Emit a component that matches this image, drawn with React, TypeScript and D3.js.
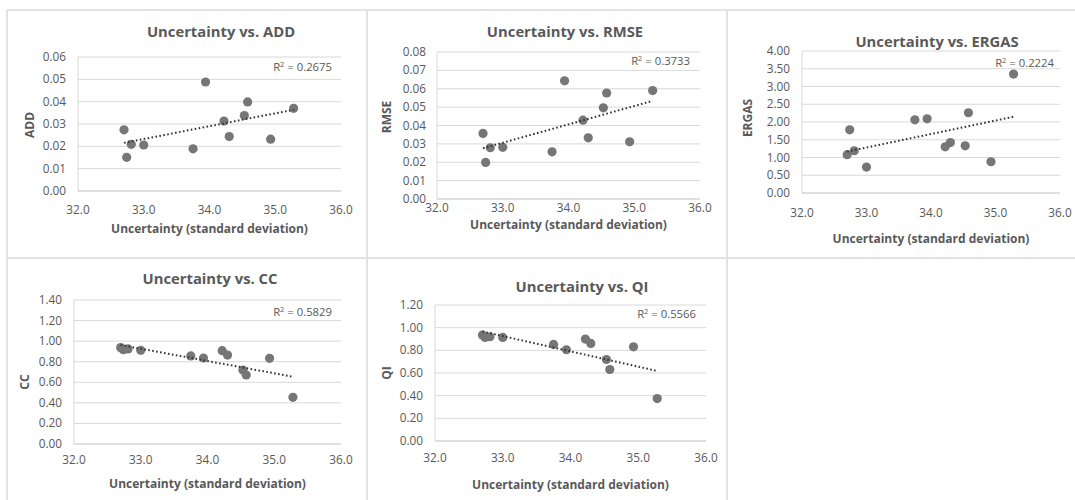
import React from "react";
import * as d3 from "d3";

// ---- data ----
const uncertainty = [32.70, 32.74, 32.81, 33.00, 33.75, 33.94, 34.22, 34.30, 34.53, 34.58, 34.93, 35.28];
const addValues = [0.0274, 0.0151, 0.0209, 0.0206, 0.0189, 0.0488, 0.0313, 0.0244, 0.0338, 0.0399, 0.0232, 0.0370];
const rmseValues = [0.0357, 0.0199, 0.0279, 0.0281, 0.0257, 0.0643, 0.0429, 0.0333, 0.0496, 0.0577, 0.0311, 0.0590];
const ergasValues = [1.08, 1.78, 1.19, 0.73, 2.06, 2.09, 1.30, 1.42, 1.33, 2.26, 0.88, 3.35];
const ccValues = [0.937, 0.917, 0.924, 0.911, 0.856, 0.836, 0.907, 0.865, 0.719, 0.671, 0.833, 0.454];
const qiValues = [0.935, 0.914, 0.920, 0.914, 0.852, 0.805, 0.899, 0.861, 0.719, 0.631, 0.831, 0.374];

const titles = ["Uncertainty vs. ADD", "Uncertainty vs. RMSE", "Uncertainty vs. ERGAS", "Uncertainty vs. CC", "Uncertainty vs. QI"];
const yLabels = ["ADD", "RMSE", "ERGAS", "CC", "QI"];
const r2Labels = ["0.2675", "0.3733", "0.2224", "0.5829", "0.5566"];
const yMaxes = [0.06, 0.08, 4.0, 1.4, 1.2];
const ySteps = [0.01, 0.01, 0.5, 0.2, 0.2];
const xTickValues = [32, 33, 34, 35, 36];
const xTitle = "Uncertainty (standard deviation)";

const seriesList = [addValues, rmseValues, ergasValues, ccValues, qiValues];

// ---- layout ----
type Layout = {
  x0: number; x1: number; yTop: number; yBot: number;
  titleX: number; titleY: number;
  xTickY: number; xTitleY: number;
  yTickX: number; yTitleX: number; yTitleY: number;
  r2X: number; r2Y: number;
};
const layouts: Layout[] = [
  { x0: 78, x1: 341, yTop: 57, yBot: 191, titleX: 221, titleY: 37, xTickY: 214, xTitleY: 233, yTickX: 66, yTitleX: 30, yTitleY: 125, r2X: 332, r2Y: 71 },
  { x0: 437, x1: 700, yTop: 52, yBot: 199, titleX: 565, titleY: 37, xTickY: 212, xTitleY: 229, yTickX: 426, yTitleX: 387, yTitleY: 117, r2X: 690, r2Y: 65 },
  { x0: 802, x1: 1060, yTop: 51, yBot: 193, titleX: 937, titleY: 47, xTickY: 217, xTitleY: 243, yTickX: 790, yTitleX: 748, yTitleY: 118, r2X: 1054, r2Y: 67 },
  { x0: 74, x1: 341, yTop: 300, yBot: 444, titleX: 210, titleY: 284, xTickY: 464, xTitleY: 488, yTickX: 62, yTitleX: 25, yTitleY: 382, r2X: 332, r2Y: 316 },
  { x0: 435, x1: 706, yTop: 305, yBot: 441, titleX: 582, titleY: 292, xTickY: 462, xTitleY: 489, yTickX: 423, yTitleX: 387, yTitleY: 373, r2X: 696, r2Y: 318 },
];

const FONT = "'Open Sans', 'Noto Sans', sans-serif";
const TEXT = "#595959";
const GRID = "#d9d9d9";
const AXIS = "#bfbfbf";
const POINT = "#767676";
const BORDER = "#e3e3e3";

function regression(xs: number[], ys: number[]) {
  const mx = d3.mean(xs)!;
  const my = d3.mean(ys)!;
  let num = 0, den = 0;
  xs.forEach((x, i) => { num += (x - mx) * (ys[i] - my); den += (x - mx) * (x - mx); });
  const slope = num / den;
  return { slope, intercept: my - slope * mx };
}

function Panel({ idx }: { idx: number }) {
  const L = layouts[idx];
  const ys = seriesList[idx];
  const x = d3.scaleLinear().domain([32, 36]).range([L.x0, L.x1]);
  const y = d3.scaleLinear().domain([0, yMaxes[idx]]).range([L.yBot, L.yTop]);
  const n = Math.round(yMaxes[idx] / ySteps[idx]);
  const yTicks = d3.range(0, n + 1).map((i) => i * ySteps[idx]);
  const reg = regression(uncertainty, ys);
  const xMin = d3.min(uncertainty)!;
  const xMax = d3.max(uncertainty)!;
  const line = d3.line<number>().x((d) => x(d)).y((d) => y(reg.slope * d + reg.intercept));
  return (
    <g>
      {yTicks.slice(1).map((t) => (
        <line key={"g" + t} x1={L.x0} x2={L.x1} y1={y(t)} y2={y(t)} stroke={GRID} strokeWidth={1} />
      ))}
      <line x1={L.x0} x2={L.x0} y1={L.yTop} y2={L.yBot} stroke={GRID} strokeWidth={1} />
      <line x1={L.x0} x2={L.x1} y1={L.yBot} y2={L.yBot} stroke={AXIS} strokeWidth={1} />
      {yTicks.map((t) => (
        <text key={"yt" + t} x={L.yTickX} y={y(t) + 4} textAnchor="end" fontSize={11.8} fill={TEXT} fontFamily={FONT}>
          {t.toFixed(2)}
        </text>
      ))}
      {xTickValues.map((t) => (
        <text key={"xt" + t} x={x(t)} y={L.xTickY} textAnchor="middle" fontSize={11.8} fill={TEXT} fontFamily={FONT}>
          {t.toFixed(1)}
        </text>
      ))}
      {uncertainty.map((u, i) => (
        <circle key={"p" + i} cx={x(u)} cy={y(ys[i])} r={4.6} fill={POINT} />
      ))}
      <path d={line([xMin, xMax]) || ""} fill="none" stroke="#333" strokeWidth={2} strokeDasharray="1.6 2.4" />
      <text x={L.titleX} y={L.titleY} textAnchor="middle" fontSize={14.8} fontWeight={700} fill={TEXT} fontFamily={FONT}>
        {titles[idx]}
      </text>
      <text x={(L.x0 + L.x1) / 2} y={L.xTitleY} textAnchor="middle" fontSize={12} fontWeight={700} fill={TEXT} fontFamily={FONT}>
        {xTitle}
      </text>
      <text transform={`translate(${L.yTitleX},${L.yTitleY}) rotate(-90)`} textAnchor="middle" dy="0.35em" fontSize={12} fontWeight={700} fill={TEXT} fontFamily={FONT}>
        {yLabels[idx]}
      </text>
      <text x={L.r2X} y={L.r2Y} textAnchor="end" fontSize={11.3} fill={TEXT} fontFamily={FONT}>
        R<tspan fontSize={7.5} dy={-4}>2</tspan><tspan dy={4}>{" = " + r2Labels[idx]}</tspan>
      </text>
    </g>
  );
}

export default function App() {
  return (
    <svg width={1075} height={500} style={{ position: "absolute", left: 0, top: 0, background: "#fff" }}>
      <rect x={0} y={0} width={1075} height={500} fill="#fff" />
      <line x1={7} x2={1075} y1={10} y2={10} stroke={BORDER} strokeWidth={2} />
      <line x1={7} x2={1075} y1={258} y2={258} stroke={BORDER} strokeWidth={2} />
      <line x1={7} x2={7} y1={10} y2={500} stroke={BORDER} strokeWidth={2} />
      <line x1={367} x2={367} y1={10} y2={500} stroke={BORDER} strokeWidth={2} />
      <line x1={727} x2={727} y1={10} y2={500} stroke={BORDER} strokeWidth={2} />
      {layouts.map((_, i) => (
        <Panel key={i} idx={i} />
      ))}
    </svg>
  );
}
